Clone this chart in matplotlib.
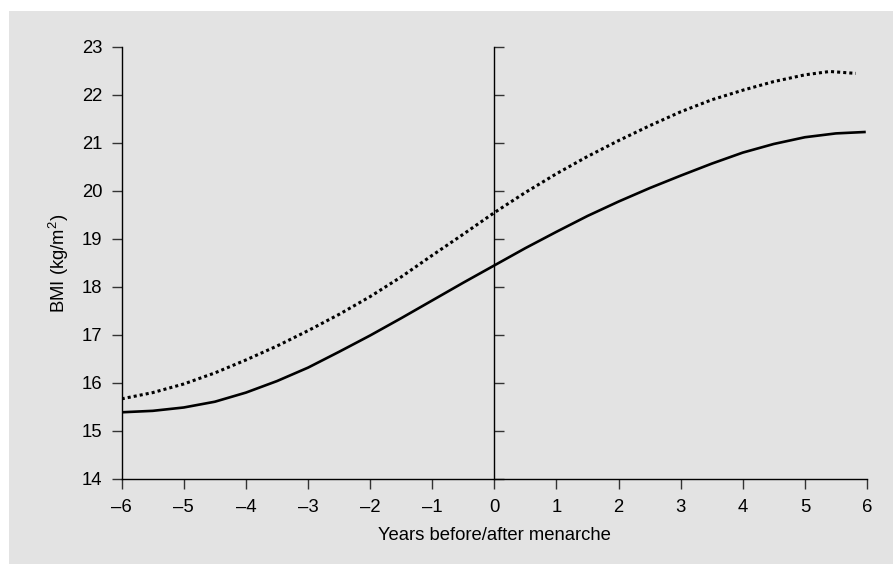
import matplotlib
matplotlib.use('Agg')
import matplotlib.pyplot as plt
from matplotlib.patches import Rectangle

plt.rcParams['font.family'] = ['Liberation Sans', 'DejaVu Sans']
plt.rcParams['mathtext.fontset'] = 'custom'
plt.rcParams['mathtext.rm'] = 'Liberation Sans'
plt.rcParams['mathtext.it'] = 'Liberation Sans:italic'

# values
years = [-6, -5.5, -5, -4.5, -4, -3.5, -3, -2.5, -2, -1.5, -1, -0.5, 0,
         0.5, 1, 1.5, 2, 2.5, 3, 3.5, 4, 4.5, 5, 5.5, 5.98]
bmi_solid = [15.39, 15.42, 15.49, 15.61, 15.80, 16.04, 16.32, 16.65, 16.99, 17.35,
             17.72, 18.09, 18.45, 18.81, 19.15, 19.48, 19.78, 20.06, 20.32, 20.57,
             20.80, 20.98, 21.12, 21.20, 21.23]

years_dot = [-6, -5.5, -5, -4.5, -4, -3.5, -3, -2.5, -2, -1.5, -1, -0.5, 0,
             0.5, 1, 1.5, 2, 2.5, 3, 3.5, 4, 4.5, 5, 5.4, 5.82]
bmi_dotted = [15.67, 15.80, 15.98, 16.21, 16.48, 16.77, 17.09, 17.43, 17.80, 18.21,
              18.66, 19.10, 19.55, 19.97, 20.36, 20.72, 21.05, 21.36, 21.65, 21.90,
              22.10, 22.28, 22.42, 22.49, 22.45]

xticks = list(range(-6, 7))
xlabels = [str(t).replace('-', '\u2013') for t in xticks]
yticks = list(range(14, 24))

fig = plt.figure(figsize=(8.93, 5.64), dpi=100)
# grey panel behind everything
fig.add_artist(Rectangle((9 / 893, 0), 1, 1 - 11 / 564, transform=fig.transFigure,
                         facecolor='#e3e3e3', edgecolor='none', zorder=-10))

ax = fig.add_axes([121.7 / 893, 1 - 479 / 564, 745.3 / 893, 432 / 564])
ax.set_facecolor('none')

ax.plot(years, bmi_solid, color='black', lw=1.9, solid_capstyle='butt',
        solid_joinstyle='round')
ax.plot(years_dot, bmi_dotted, color='black', lw=2.2, linestyle=(0, (1, 1)),
        dash_capstyle='butt')

ax.set_xlim(-6, 6)
ax.set_ylim(14, 23)
ax.set_xticks(xticks)
ax.set_xticklabels(xlabels)
ax.set_yticks(yticks)

ax.spines['top'].set_visible(False)
ax.spines['right'].set_position(('data', 0))
for s in ['left', 'right', 'bottom']:
    ax.spines[s].set_linewidth(1.0)
    ax.spines[s].set_color('black')

ax.yaxis.set_ticks_position('both')
ax.tick_params(axis='y', direction='out', length=7.5, width=1.0, color='#333333',
               labelsize=13.3, pad=6.5, labelright=False)
ax.tick_params(axis='x', direction='out', length=7.5, width=1.0, color='#333333',
               labelsize=13.3, pad=7)

ax.set_xlabel('Years before/after menarche', fontsize=13.3)
ax.set_ylabel('BMI (kg/m$^2$)', fontsize=13.3)
ax.xaxis.set_label_coords(0.5, -0.11)
ax.yaxis.set_label_coords(-0.068, 0.5)

fig.savefig('out.png', dpi=100)
